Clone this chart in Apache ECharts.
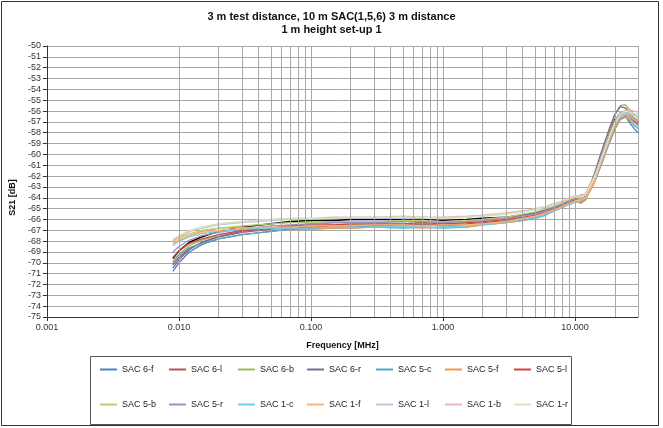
<!DOCTYPE html>
<html>
<head>
<meta charset="utf-8">
<script src="https://cdn.jsdelivr.net/npm/echarts@6/dist/echarts.min.js"></script>
<style>
html, body { margin: 0; padding: 0; background: #fff; }
#chart { width: 663px; height: 428px; }
</style>
</head>
<body>
<div id="chart"></div>
<script>
// frequency points [MHz]
const freq = [0.009, 0.01, 0.012, 0.015, 0.02, 0.03, 0.05, 0.07, 0.1, 0.15, 0.2, 0.3, 0.5, 0.7, 1, 1.5, 2, 3, 4, 5, 6, 7, 8, 9, 10, 11, 12, 14, 16, 18, 20, 22, 24, 26, 28, 30];

// S21 [dB] per position
const sac6f = [-70.8, -70.0, -69.0, -68.3, -67.8, -67.4, -67.1, -66.9, -66.8, -66.7, -66.7, -66.6, -66.6, -66.5, -66.6, -66.5, -66.4, -66.2, -66.0, -65.8, -65.5, -65.2, -64.9, -64.6, -64.4, -64.3, -64.1, -62.6, -60.8, -59.1, -57.7, -56.8, -56.5, -57.1, -57.6, -58.0];
const sac6l = [-70.2, -69.5, -68.7, -68.1, -67.6, -67.2, -66.9, -66.8, -66.7, -66.6, -66.6, -66.5, -66.5, -66.4, -66.5, -66.4, -66.3, -66.1, -65.9, -65.7, -65.4, -65.1, -64.8, -64.5, -64.3, -64.2, -63.9, -62.3, -60.4, -58.7, -57.3, -56.5, -56.3, -56.7, -57.0, -57.3];
const sac6b = [-69.9, -69.2, -68.4, -67.9, -67.5, -67.1, -66.8, -66.7, -66.6, -66.5, -66.5, -66.4, -66.4, -66.3, -66.4, -66.3, -66.2, -66.0, -65.8, -65.6, -65.3, -65.0, -64.7, -64.4, -64.2, -64.3, -64.0, -62.0, -59.9, -58.0, -56.4, -55.5, -55.4, -55.9, -56.3, -56.6];
const sac6r = [-70.5, -69.7, -68.8, -68.1, -67.6, -67.1, -66.8, -66.6, -66.4, -66.3, -66.3, -66.2, -66.2, -66.1, -66.2, -66.1, -66.0, -65.8, -65.6, -65.4, -65.1, -64.8, -64.5, -64.2, -64.0, -64.5, -64.2, -61.8, -59.6, -57.8, -56.3, -55.6, -55.7, -56.2, -56.7, -57.0];
const sac5c = [-70.0, -69.3, -68.6, -68.2, -67.8, -67.4, -67.1, -66.9, -66.9, -66.8, -66.8, -66.7, -66.8, -66.7, -66.8, -66.7, -66.5, -66.3, -66.1, -65.9, -65.6, -65.2, -64.9, -64.6, -64.4, -64.3, -64.1, -62.5, -60.6, -58.9, -57.5, -56.7, -56.5, -56.9, -57.3, -57.6];
const sac5f = [-68.2, -67.9, -67.5, -67.1, -66.8, -66.7, -66.8, -66.8, -66.9, -66.8, -66.8, -66.7, -66.7, -66.8, -66.7, -66.7, -66.5, -66.3, -66.1, -65.8, -65.5, -65.2, -64.9, -64.6, -64.4, -64.4, -64.2, -62.6, -60.7, -59.0, -57.6, -56.8, -56.6, -56.8, -57.0, -57.2];
const sac5l = [-69.5, -68.9, -68.2, -67.8, -67.4, -67.0, -66.8, -66.6, -66.5, -66.5, -66.4, -66.4, -66.4, -66.3, -66.4, -66.3, -66.2, -66.0, -65.8, -65.6, -65.3, -65.0, -64.7, -64.4, -64.2, -64.2, -63.9, -62.2, -60.2, -58.5, -57.1, -56.3, -56.2, -56.6, -56.9, -57.1];
const sac5b = [-68.0, -67.7, -67.3, -67.0, -66.8, -66.6, -66.4, -66.3, -66.3, -66.2, -66.2, -66.2, -66.1, -66.1, -66.2, -66.1, -66.0, -65.8, -65.5, -65.3, -65.0, -64.8, -64.5, -64.2, -64.0, -64.0, -63.7, -62.0, -60.0, -58.3, -56.9, -56.1, -56.0, -56.3, -56.6, -56.8];
const sac5r = [-69.0, -68.5, -67.9, -67.5, -67.2, -66.9, -66.6, -66.5, -66.4, -66.3, -66.3, -66.3, -66.2, -66.2, -66.3, -66.2, -66.1, -65.9, -65.7, -65.5, -65.2, -64.9, -64.6, -64.3, -64.1, -64.2, -63.9, -62.1, -60.1, -58.4, -57.0, -56.2, -56.0, -56.4, -56.7, -56.9];
const sac1c = [-68.4, -68.0, -67.6, -67.3, -67.1, -66.9, -66.8, -66.8, -66.8, -66.7, -66.7, -66.7, -66.6, -66.7, -66.7, -66.6, -66.5, -66.3, -66.0, -65.8, -65.5, -65.2, -64.9, -64.6, -64.4, -64.3, -64.0, -62.4, -60.5, -58.8, -57.3, -56.5, -56.3, -56.7, -57.1, -57.4];
const sac1f = [-68.3, -67.9, -67.5, -67.2, -67.0, -66.8, -66.7, -66.7, -66.6, -66.6, -66.6, -66.5, -66.5, -66.6, -66.5, -66.5, -66.4, -66.2, -65.9, -65.7, -65.4, -65.1, -64.8, -64.5, -64.3, -64.2, -64.0, -62.4, -60.4, -58.7, -57.2, -56.4, -56.2, -56.5, -56.8, -57.0];
const sac1l = [-67.9, -67.6, -67.1, -66.8, -66.5, -66.3, -66.1, -66.0, -66.0, -65.9, -65.9, -65.9, -65.9, -65.8, -65.9, -65.8, -65.7, -65.5, -65.3, -65.1, -64.9, -64.6, -64.4, -64.1, -63.9, -63.9, -63.7, -62.2, -60.3, -58.6, -57.2, -56.4, -56.2, -56.2, -56.4, -56.5];
const sac1b = [-68.0, -67.6, -67.1, -66.7, -66.4, -66.2, -66.0, -65.9, -65.9, -65.8, -65.8, -65.8, -65.7, -65.8, -65.8, -65.7, -65.6, -65.4, -65.2, -65.0, -64.8, -64.5, -64.3, -64.0, -63.8, -63.8, -63.6, -62.1, -60.2, -58.5, -57.1, -56.3, -56.0, -55.9, -56.0, -56.1];
const sac1r = [-67.8, -67.5, -67.0, -66.7, -66.4, -66.2, -66.0, -65.9, -65.9, -65.9, -65.8, -65.8, -65.8, -65.8, -65.9, -65.8, -65.7, -65.5, -65.3, -65.1, -64.8, -64.6, -64.3, -64.1, -63.9, -63.9, -63.7, -62.2, -60.3, -58.5, -57.1, -56.3, -56.0, -56.1, -56.2, -56.3];
// black trace without legend entry
const refTrace = [-69.6, -68.9, -68.1, -67.6, -67.1, -66.7, -66.4, -66.2, -66.1, -66.1, -66.0, -66.0, -66.0, -66.0, -66.1, -66.0, -65.9, -65.8, -65.6, -65.4, -65.1, -64.9, -64.6, -64.3, -64.0, -63.8, -63.7, -62.0, -60.0, -58.2, -56.8, -56.3, -56.3, -56.6, -56.9, -57.1];

const names = ['SAC 6-f', 'SAC 6-l', 'SAC 6-b', 'SAC 6-r', 'SAC 5-c', 'SAC 5-f', 'SAC 5-l',
               'SAC 5-b', 'SAC 5-r', 'SAC 1-c', 'SAC 1-f', 'SAC 1-l', 'SAC 1-b', 'SAC 1-r'];
const colors = ['#4F81BD', '#C0504D', '#9BBB59', '#8064A2', '#4BACC6', '#F79646', '#D9413A',
                '#B3D36B', '#A48BC4', '#6FCFE6', '#FBB57A', '#B9C9E2', '#E6B9B8', '#D7E4BD'];
const values = [sac6f, sac6l, sac6b, sac6r, sac5c, sac5f, sac5l, sac5b, sac5r, sac1c, sac1f, sac1l, sac1b, sac1r];

const yMin = -75, yMax = -50;
const xMin = 0.001, xMax = 30;

const font = "'Liberation Sans', Arial, sans-serif";

// minor log gridlines 2..9 per decade
const minorLines = [];
for (let d = xMin; d < xMax; d *= 10) {
    for (let k = 2; k <= 9; k++) {
        const v = +(d * k).toPrecision(3);
        if (v < xMax) minorLines.push({ xAxis: v });
    }
}

const chart = echarts.init(document.getElementById('chart'));

const series = [{
    type: 'line',
    data: [],
    silent: true,
    z: 1,
    markLine: {
        silent: true,
        symbol: ['none', 'none'],
        label: { show: false },
        lineStyle: { color: '#a8a8a8', type: 'solid', width: 1 },
        emphasis: { disabled: true },
        animation: false,
        data: minorLines
    }
}, {
    // black trace drawn first so the coloured ones sit over it
    name: 'ref',
    type: 'line',
    symbol: 'none',
    z: 3,
    color: '#000000',
    lineStyle: { width: 1.5 },
    data: freq.map((f, j) => [f, refTrace[j]])
}];
values.forEach((vals, i) => {
    series.push({
        name: names[i],
        type: 'line',
        symbol: 'none',
        z: 3,
        color: colors[i],
        lineStyle: { width: 1.3 },
        data: freq.map((f, j) => [f, vals[j]])
    });
});

// one legend per entry so the columns line up like the original table
const legends = names.map((n, i) => ({
    left: 100 + 69 * (i % 7),
    top: i < 7 ? 365 : 400,
    padding: 0,
    icon: 'rect',
    itemWidth: 17,
    itemHeight: 2,
    selectedMode: false,
    data: [n],
    textStyle: { fontFamily: font, fontSize: 9, color: '#222' }
}));

chart.setOption({
    animation: false,
    backgroundColor: '#fff',
    title: {
        text: '3 m test distance, 10 m SAC(1,5,6) 3 m distance\n1 m height set-up 1',
        left: 'center',
        top: 10,
        padding: [0, 0, 0, 10],
        textStyle: { fontFamily: font, fontSize: 11, fontWeight: 'bold', color: '#111', lineHeight: 13 }
    },
    grid: { left: 44, right: 25, top: 46, bottom: 111 },
    legend: legends,
    xAxis: {
        type: 'log',
        logBase: 10,
        min: xMin,
        max: xMax,
        name: 'Frequency [MHz]',
        nameLocation: 'middle',
        nameGap: 24,
        nameTextStyle: { fontFamily: font, fontSize: 9, fontWeight: 'bold', color: '#111' },
        axisLine: { lineStyle: { color: '#333', width: 1 } },
        axisTick: { show: true, length: 4, lineStyle: { color: '#333' } },
        axisLabel: {
            fontFamily: font, fontSize: 9, color: '#333', margin: 6,
            showMaxLabel: false,
            formatter: v => {
                const l = Math.log10(v);
                return Math.abs(l - Math.round(l)) < 1e-6 ? v.toFixed(3) : '';
            }
        },
        splitLine: { show: true, lineStyle: { color: '#a8a8a8', width: 1 } },
        minorTick: { show: false },
        minorSplitLine: { show: false }
    },
    yAxis: {
        type: 'value',
        min: yMin,
        max: yMax,
        interval: 1,
        name: 'S21 [dB]',
        nameLocation: 'middle',
        nameGap: 16,
        nameTextStyle: { fontFamily: font, fontSize: 9, fontWeight: 'bold', color: '#111', padding: [0, 32, 0, 0] },
        axisLine: { show: true, lineStyle: { color: '#333', width: 1 } },
        axisTick: { show: true, length: 4, lineStyle: { color: '#333' } },
        axisLabel: { fontFamily: font, fontSize: 9, color: '#333', margin: 6 },
        splitLine: { show: true, lineStyle: { color: '#a8a8a8', width: 1 } }
    },
    graphic: [
        {
            type: 'rect',
            shape: { x: 1.5, y: 1.5, width: 657, height: 424 },
            style: { fill: 'none', stroke: '#333', lineWidth: 1 },
            silent: true
        },
        {
            type: 'rect',
            shape: { x: 90.5, y: 356.5, width: 481, height: 68 },
            style: { fill: 'none', stroke: '#555', lineWidth: 1 },
            silent: true
        }
    ],
    series: series
});
</script>
</body>
</html>
